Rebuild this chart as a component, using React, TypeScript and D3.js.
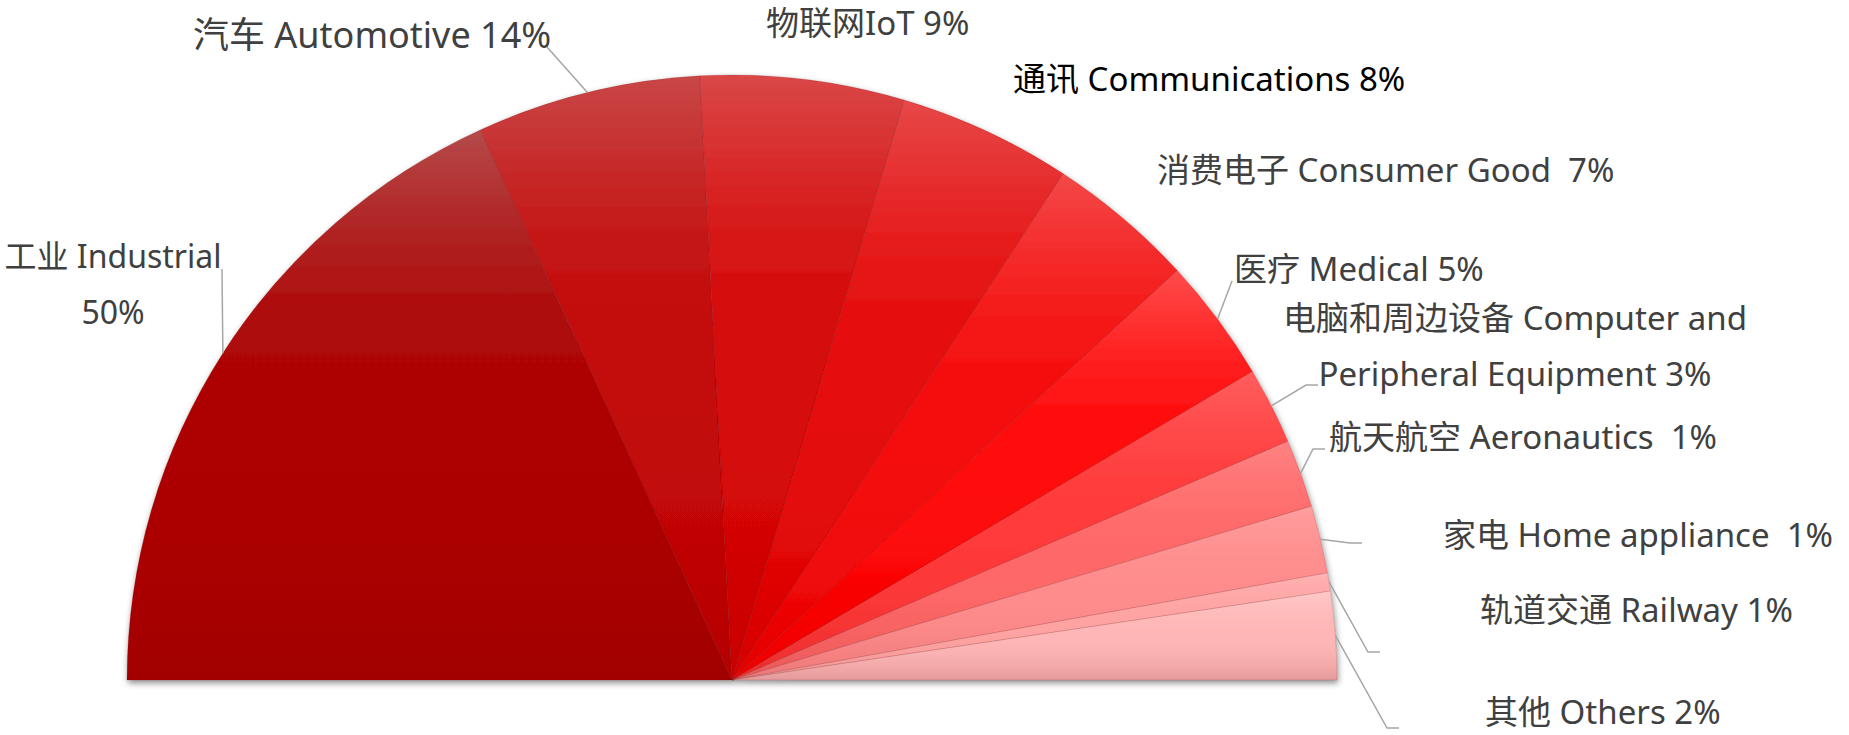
import React from 'react';
import * as d3 from 'd3';

// ---- data ----
const categories = ['工业', '汽车', '物联网', '通讯', '消费电子', '医疗', '电脑和周边设备', '航天航空', '家电', '轨道交通', '其他'];
const categoriesEn = ['Industrial', 'Automotive', 'IoT', 'Communications', 'Consumer Good', 'Medical', 'Computer and Peripheral Equipment', 'Aeronautics', 'Home appliance', 'Railway', 'Others'];
const percentLabels = ['50%', '14%', '9%', '8%', '7%', '5%', '3%', '1%', '1%', '1%', '2%'];
// slice sizes as drawn (angular share of the half pie)
const sliceValues = [65.4, 21.55, 19.6, 16.65, 14.2, 11.95, 7.4, 6.55, 6.5, 1.75, 8.45];
// label text lines as printed
const labelLines: string[][] = [
  ['工业 Industrial', '50%'],
  ['汽车 Automotive 14%'],
  ['物联网IoT 9%'],
  ['通讯 Communications 8%'],
  ['消费电子 Consumer Good  7%'],
  ['医疗 Medical 5%'],
  ['电脑和周边设备 Computer and', 'Peripheral Equipment 3%'],
  ['航天航空 Aeronautics  1%'],
  ['家电 Home appliance  1%'],
  ['轨道交通 Railway 1%'],
  ['其他 Others 2%'],
];

// ---- styles / layout ----
const W = 1849;
const H = 735;
const CX = 732;
const CY = 680;
const R = 605;
const FONT = 33;
const LINE_GAP = 56;

const sliceColors: [string, string, string][] = [
  ['#b54a4a', '#ad0404', '#a20000'],
  ['#c94747', '#c30808', '#b50000'],
  ['#da4747', '#d60808', '#c80000'],
  ['#e74848', '#e50a0a', '#d60000'],
  ['#f44848', '#f50c0c', '#e40000'],
  ['#ff4a4a', '#ff0808', '#ec0000'],
  ['#ff5e5e', '#ff3a3a', '#ea2c2c'],
  ['#ff8282', '#ff6868', '#e85858'],
  ['#ff9e9e', '#ff8c8c', '#ea7676'],
  ['#ffb2b2', '#ffa2a2', '#ec8e8e'],
  ['#ffc8c8', '#ffb6b6', '#e49a9a'],
];

type Lay = { x: number; cy: number; anchor: 'start' | 'middle'; size?: number; color?: string; leader?: [number, number][] };
const labelLayout: Lay[] = [
  { x: 113, cy: 256, anchor: 'middle', size: 32, leader: [[222, 269]] },
  { x: 193, cy: 35, anchor: 'start', size: 36, leader: [[547, 47]] },
  { x: 766, cy: 23, anchor: 'start' },
  { x: 1013, cy: 79, anchor: 'start', color: '#000000' },
  { x: 1157, cy: 170, anchor: 'start' },
  { x: 1234, cy: 269, anchor: 'start', leader: [[1232, 281]] },
  { x: 1515, cy: 318, anchor: 'middle', leader: [[1306, 385], [1318, 385]] },
  { x: 1329, cy: 437, anchor: 'start', leader: [[1313, 449], [1325, 449]] },
  { x: 1443, cy: 535, anchor: 'start', leader: [[1350, 543], [1362, 543]] },
  { x: 1480, cy: 610, anchor: 'start', leader: [[1368, 652], [1380, 652]] },
  { x: 1485, cy: 712, anchor: 'start', leader: [[1387, 728], [1399, 728]] },
];

function gradientStops(c: [string, string, string]) {
  const up = d3.interpolateRgb(c[0], c[1]);
  const down = d3.interpolateRgb(c[1], c[2]);
  const stops: { o: number; col: string }[] = [];
  for (let k = 0; k <= 10; k++) {
    const t = k / 10;
    stops.push({ o: t * 0.5, col: up(Math.sin((Math.PI / 2) * t)) });
  }
  for (let k = 1; k <= 10; k++) {
    const t = k / 10;
    stops.push({ o: 0.5 + t * 0.5, col: down(t * t) });
  }
  return stops;
}

export default function App() {
  const pie = d3
    .pie<number>()
    .sort(null)
    .value((d) => d)
    .startAngle(-Math.PI / 2)
    .endAngle(Math.PI / 2);
  const arcs = pie(sliceValues);
  const arcGen = d3.arc<d3.PieArcDatum<number>>().innerRadius(0).outerRadius(R);
  const line = d3.line();

  return (
    <svg
      width={W}
      height={H}
      style={{ position: 'absolute', left: 0, top: 0, background: '#ffffff' }}
      fontFamily="'Noto Sans', 'Noto Sans CJK SC', sans-serif"
    >
      <defs>
        {sliceColors.map((c, i) => (
          <linearGradient key={i} id={`g${i}`} x1="0" y1="0" x2="0" y2="1">
            {gradientStops(c).map((s, k) => (
              <stop key={k} offset={s.o} stopColor={s.col} />
            ))}
          </linearGradient>
        ))}
        <filter id="shadow" x="-10%" y="-10%" width="120%" height="120%">
          <feDropShadow dx="1" dy="3" stdDeviation="3" floodColor="#000" floodOpacity="0.45" />
        </filter>
      </defs>
      <g transform={`translate(${CX},${CY})`} filter="url(#shadow)">
        {arcs.map((a, i) => (
          <path key={i} d={arcGen(a) || ''} fill={`url(#g${i})`} stroke="rgba(90,0,0,0.18)" strokeWidth={0.8} />
        ))}
      </g>
      {arcs.map((a, i) => {
        const lay = labelLayout[i];
        if (!lay.leader) return null;
        const mid = (a.startAngle + a.endAngle) / 2;
        const p0: [number, number] = [CX + R * Math.sin(mid), CY - R * Math.cos(mid)];
        return (
          <path
            key={`l${i}`}
            d={line([p0, ...lay.leader]) || ''}
            fill="none"
            stroke="#a6a6a6"
            strokeWidth={1.5}
          />
        );
      })}
      {labelLines.map((lines, i) => {
        const lay = labelLayout[i];
        const fs = lay.size || FONT;
        return (
          <text
            key={`t${i}`}
            fontSize={fs}
            fill={lay.color || '#404040'}
            textAnchor={lay.anchor}
            style={{ whiteSpace: 'pre' }}
            data-cat={categories[i]}
            data-en={categoriesEn[i]}
            data-pct={percentLabels[i]}
          >
            {lines.map((ln, k) => (
              <tspan key={k} x={lay.x} y={lay.cy + k * LINE_GAP + fs * 0.37}>
                {ln}
              </tspan>
            ))}
          </text>
        );
      })}
    </svg>
  );
}
